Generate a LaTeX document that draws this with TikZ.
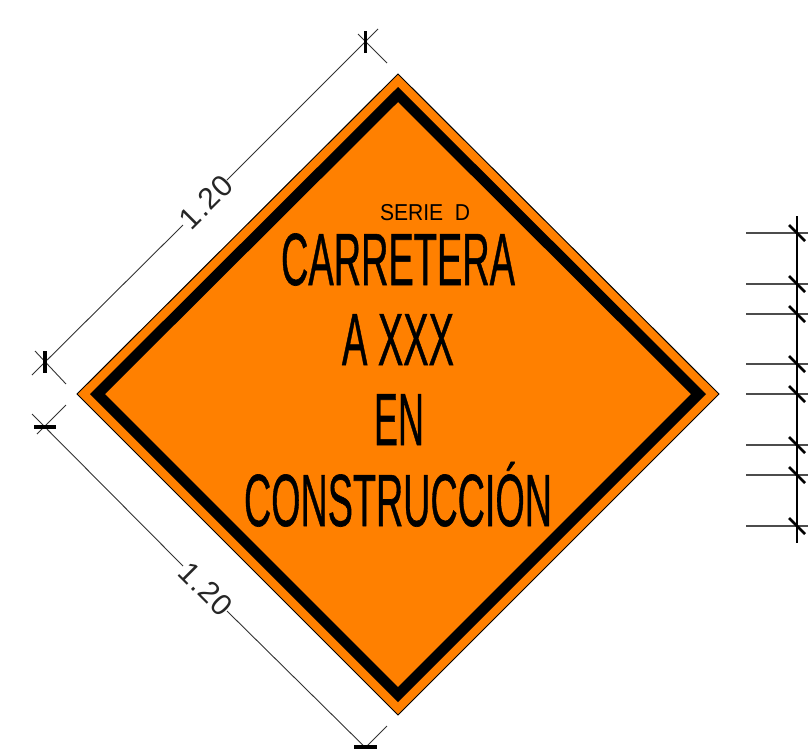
\documentclass[tikz,border=0pt]{standalone}
\usepackage{fontspec}
\usepackage{graphicx}
\setmainfont{Liberation Sans}
\newfontfamily\signfont[FakeBold=0.9]{Liberation Sans}
\newfontfamily\dimfont[LetterSpace=4]{Liberation Sans}
\newcommand{\signline}[2]{\resizebox{#1}{\height}{\fontsize{74}{74}\signfont #2}}
\begin{document}
\begin{tikzpicture}[x=1pt,y=-1pt,
  dimline/.style={draw=black!80,line width=0.9pt},
  extline/.style={draw=black!70,line width=1.2pt},
  ticksym/.style={draw=black,line width=3.2pt},
  chaintick/.style={draw=black,line width=2.8pt},
  signtext/.style={anchor=base,inner sep=0pt,text=black},
  dimtext/.style={inner sep=0pt,text=black!85,font=\fontsize{30}{30}\dimfont},
  ]
\useasboundingbox (0,0) rectangle (808,748);
\definecolor{signorange}{HTML}{FF8000}
% sign panel
\coordinate (dt) at (398,74); \coordinate (dr) at (719,394);
\coordinate (db) at (398,715); \coordinate (dl) at (77,394);
\draw[black,line width=1pt,fill=signorange] (dt)--(dr)--(db)--(dl)--cycle;
\fill[black,even odd rule]
  (398,87)--(706,394)--(398,702)--(90,394)--cycle
  (398,102)--(691,394)--(398,687)--(105,394)--cycle;
% texts
\node[signtext] (l1) at (398,285) {\signline{234pt}{CARRETERA}};
\node[signtext] (l2) at (398,365) {\signline{112pt}{A XXX}};
\node[signtext] (l3) at (399,445) {\signline{50pt}{EN}};
\node[signtext] (l4) at (398,526) {\signline{308pt}{CONSTRUCCIÓN}};
\node[anchor=base,inner sep=0pt,font=\fontsize{23}{23}\selectfont] (serie) at (425,220)
  {\resizebox{90pt}{\height}{SERIE\hspace{0.55em}D}};
% upper-left dimension
\coordinate (a1) at (32,375); \coordinate (a2) at (183,225);
\coordinate (a3) at (227,180); \coordinate (a4) at (378,29);
\coordinate (e1s) at (35,351); \coordinate (e1e) at (66,384);
\coordinate (e2s) at (358,34); \coordinate (e2e) at (387,63);
\draw[dimline] (a1)--(a2) (a3)--(a4);
\draw[dimline] (e1s)--(e1e) (e2s)--(e2e);
\coordinate (t1a) at (45,351); \coordinate (t1b) at (45,373);
\coordinate (t2a) at (365.5,31); \coordinate (t2b) at (365.5,53);
\draw[ticksym] (t1a)--(t1b) (t2a)--(t2b);
\node[dimtext,rotate=45] (lab1) at (206,202) {1.20};
% lower-left dimension
\coordinate (b1) at (32,414); \coordinate (b2) at (183,566);
\coordinate (b3) at (227,611); \coordinate (b4) at (378,760);
\coordinate (f1s) at (66,405); \coordinate (f1e) at (37,434);
\coordinate (f2s) at (387,726); \coordinate (f2e) at (360,753);
\draw[dimline] (b1)--(b2) (b3)--(b4);
\draw[dimline] (f1s)--(f1e) (f2s)--(f2e);
\coordinate (t3a) at (34,427); \coordinate (t3b) at (56,427);
\coordinate (t4a) at (354,747); \coordinate (t4b) at (377,747);
\draw[ticksym] (t3a)--(t3b) (t4a)--(t4b);
\node[dimtext,rotate=-45] (lab2) at (206,589) {1.20};
% right-hand dimension chain
\coordinate (ct) at (797,216); \coordinate (cb) at (797,543);
\draw[draw=black,line width=1.4pt] (ct)--(cb);
\foreach \n/\y in {1/233,2/284,3/314,4/364,5/394,6/445,7/475,8/526}{
  \coordinate (x\n a) at (746,\y); \coordinate (x\n b) at (808,\y);
  \coordinate (s\n a) at (789,\y-8); \coordinate (s\n b) at (805,\y+8);
  \draw[extline] (x\n a)--(x\n b);
  \draw[chaintick] (s\n a)--(s\n b);
}
\end{tikzpicture}
\end{document}
